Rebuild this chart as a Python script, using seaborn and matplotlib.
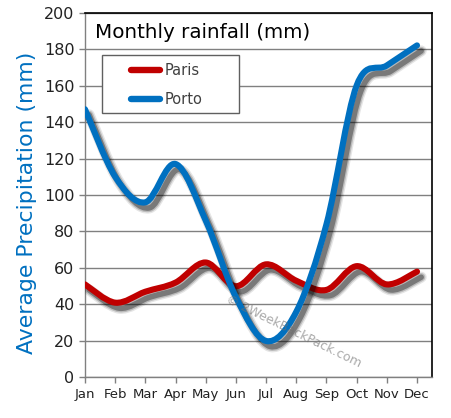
import numpy as np
import matplotlib
matplotlib.use("Agg")
import matplotlib.pyplot as plt
import matplotlib.patheffects as pe
from matplotlib.path import Path
from matplotlib.patches import PathPatch, Rectangle
from matplotlib.lines import Line2D
import seaborn as sns

# data (mm)
months = ["Jan", "Feb", "Mar", "Apr", "May", "Jun",
          "Jul", "Aug", "Sep", "Oct", "Nov", "Dec"]
paris = [51, 41, 47, 52, 63, 50, 62, 53, 48, 61, 51, 58]
porto = [147, 110, 96, 117, 86, 44, 20, 36, 84, 160, 171, 182]

city_names = ["Paris", "Porto"]
city_colors = ["#C00000", "#0070C0"]

sns.set_style("white")
plt.rcParams["font.family"] = ["DejaVu Sans"]


def smooth_path(xs, ys):
    # bezier segments through the points (like a spreadsheet "smoothed line")
    pts = np.column_stack([xs, ys]).astype(float)
    n = len(pts)
    verts = [pts[0]]
    codes = [Path.MOVETO]
    for i in range(n - 1):
        p0 = pts[i - 1] if i > 0 else pts[i]
        p1 = pts[i]
        p2 = pts[i + 1]
        p3 = pts[i + 2] if i + 2 < n else pts[i + 1]
        c1 = p1 + (p2 - p0) / 6.0
        c2 = p2 - (p3 - p1) / 6.0
        verts += [c1, c2, p2]
        codes += [Path.CURVE4] * 3
    return Path(verts, codes)


fig, ax = plt.subplots(figsize=(4.52, 4.18), dpi=100)
fig.subplots_adjust(left=0.188, right=0.956, bottom=0.097, top=0.970)

x = np.arange(len(months))
shadow = [
    pe.SimpleLineShadow(offset=(3, -4), shadow_color="k", alpha=0.10, linewidth=8),
    pe.SimpleLineShadow(offset=(3, -4), shadow_color="k", alpha=0.18, linewidth=6),
    pe.SimpleLineShadow(offset=(3, -4), shadow_color="k", alpha=0.35, linewidth=4),
    pe.Normal(),
]

for vals, col in zip([paris, porto], city_colors):
    patch = PathPatch(smooth_path(x, vals), fill=False, edgecolor=col,
                      linewidth=4.4, capstyle="round", joinstyle="round",
                      zorder=3)
    patch.set_path_effects(shadow)
    ax.add_patch(patch)

ax.set_xlim(0, 11.5)
ax.set_ylim(0, 200)
ax.set_yticks(range(0, 201, 20))
ax.set_xticks(x)
ax.set_xticklabels(months, fontsize=9.5, color="#222222")
ax.tick_params(axis="y", labelsize=11.5, labelcolor="#222222")
ax.tick_params(axis="both", direction="out", length=4, width=1,
               color="#808080", bottom=True, left=True)
ax.yaxis.grid(True, color="#808080", linewidth=1)
ax.set_axisbelow(True)

for side in ["top", "right"]:
    ax.spines[side].set_color("black")
    ax.spines[side].set_linewidth(1.2)
for side in ["left", "bottom"]:
    ax.spines[side].set_color("#808080")
    ax.spines[side].set_linewidth(1)

ax.set_ylabel("Average Precipitation (mm)", fontsize=15.8, color="#0070C0")
ax.yaxis.set_label_coords(-0.138, 0.478)

ax.text(0.03, 0.945, "Monthly rainfall (mm)", transform=ax.transAxes,
        fontsize=14.3, va="center", ha="left", color="black")

# legend box
ax.add_patch(Rectangle((0.049, 0.726), 0.395, 0.159, transform=ax.transAxes,
                       facecolor="white", edgecolor="#606060", linewidth=1,
                       zorder=5))
handles = [Line2D([0], [0], color=c, linewidth=4.6, solid_capstyle="round")
           for c in city_colors]
leg = ax.legend(handles, city_names, loc="upper left",
                bbox_to_anchor=(0.133, 0.862), fontsize=10.5,
                handlelength=2.0, handletextpad=0.3, borderpad=0,
                borderaxespad=0, labelspacing=1.0, frameon=False,
                labelcolor="#404040")
leg.set_zorder(6)

# watermark
ax.text(0.60, 0.125, "© 2WeekBackPack.com", transform=ax.transAxes,
        rotation=-26, fontsize=9, color="#707070", alpha=0.6,
        ha="center", va="center", zorder=4)

fig.savefig("out.png", dpi=100)
